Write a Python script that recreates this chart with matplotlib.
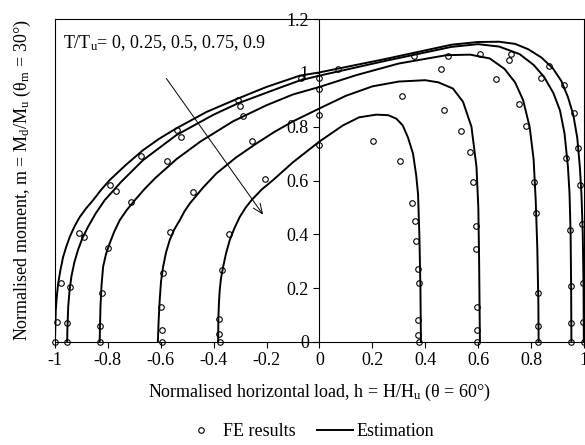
import numpy as np
import matplotlib
matplotlib.use('Agg')
import matplotlib.pyplot as plt

plt.rcParams['font.family'] = ['Liberation Serif', 'DejaVu Serif']
plt.rcParams['mathtext.default'] = 'regular'
plt.rcParams['axes.unicode_minus'] = False

T_LABELS = [0, 0.25, 0.5, 0.75, 0.9]

# estimation curves (h, m)
est_h_00 = [-1.0, -0.999, -0.997, -0.993, -0.988, -0.979, -0.969, -0.957, -0.944, -0.926, -0.906, -0.882,
            -0.856, -0.826, -0.793, -0.73, -0.667, -0.605, -0.541, -0.427, -0.308, -0.2, -0.074, 0.0, 0.25,
            0.5, 0.6, 0.68, 0.74, 0.79, 0.84, 0.883, 0.915, 0.94, 0.96, 0.975, 0.985, 0.991, 0.996, 0.999, 1.0]
est_m_00 = [0.0, 0.05, 0.119, 0.17, 0.218, 0.27, 0.317, 0.355, 0.391, 0.43, 0.465, 0.497,
            0.527, 0.565, 0.602, 0.66, 0.713, 0.756, 0.794, 0.855, 0.905, 0.948, 0.99, 1.002, 1.052,
            1.105, 1.115, 1.116, 1.108, 1.088, 1.057, 1.017, 0.97, 0.91, 0.845, 0.76, 0.65, 0.55, 0.4, 0.2, 0.0]

est_h_25 = [-0.954, -0.953, -0.95, -0.945, -0.938, -0.927, -0.913, -0.896, -0.875, -0.846, -0.812, -0.75,
            -0.667, -0.541, -0.4, -0.308, -0.15, -0.074, 0.0, 0.25, 0.5, 0.6, 0.68, 0.757, 0.81, 0.85, 0.885,
            0.91, 0.927, 0.94, 0.946, 0.95, 0.952, 0.953]
est_m_25 = [0.0, 0.05, 0.131, 0.19, 0.243, 0.295, 0.342, 0.387, 0.428, 0.478, 0.527, 0.595,
            0.676, 0.769, 0.845, 0.887, 0.945, 0.972, 0.99, 1.045, 1.097, 1.107, 1.098, 1.07, 1.03, 0.985, 0.925,
            0.86, 0.775, 0.65, 0.55, 0.4, 0.2, 0.0]

est_h_50 = [-0.831, -0.83, -0.828, -0.824, -0.818, -0.807, -0.793, -0.776, -0.755, -0.729, -0.698, -0.66,
            -0.62, -0.54, -0.45, -0.327, -0.2, -0.1, 0.0, 0.14, 0.3, 0.48, 0.57, 0.644, 0.7, 0.74, 0.77,
            0.795, 0.81, 0.818, 0.824, 0.828, 0.829]
est_m_50 = [0.0, 0.05, 0.131, 0.21, 0.28, 0.327, 0.367, 0.41, 0.453, 0.49, 0.527, 0.57,
            0.61, 0.68, 0.745, 0.82, 0.88, 0.92, 0.948, 0.992, 1.035, 1.066, 1.068, 1.054, 1.015, 0.965, 0.9,
            0.8, 0.68, 0.527, 0.35, 0.15, 0.0]

est_h_75 = [-0.611, -0.608, -0.604, -0.599, -0.591, -0.58, -0.566, -0.549, -0.528, -0.51, -0.49, -0.44,
            -0.389, -0.315, -0.238, -0.17, -0.1, 0.0, 0.1, 0.2, 0.3, 0.4, 0.45, 0.505, 0.543, 0.575, 0.594,
            0.601, 0.604, 0.606, 0.607]
est_m_75 = [0.0, 0.08, 0.156, 0.225, 0.28, 0.333, 0.379, 0.418, 0.453, 0.486, 0.515, 0.574,
            0.627, 0.686, 0.738, 0.781, 0.82, 0.868, 0.915, 0.95, 0.968, 0.973, 0.965, 0.942, 0.893, 0.8, 0.651,
            0.5, 0.3, 0.1, 0.0]

est_h_90 = [-0.383, -0.382, -0.38, -0.377, -0.372, -0.364, -0.353, -0.339, -0.321, -0.301, -0.28, -0.257,
            -0.218, -0.175, -0.1, 0.0, 0.089, 0.15, 0.215, 0.26, 0.291, 0.315, 0.335, 0.354, 0.366, 0.373,
            0.378, 0.382, 0.384]
est_m_90 = [0.0, 0.093, 0.145, 0.193, 0.238, 0.28, 0.33, 0.379, 0.424, 0.465, 0.498, 0.527,
            0.567, 0.602, 0.668, 0.745, 0.805, 0.835, 0.845, 0.843, 0.83, 0.805, 0.76, 0.7, 0.62, 0.55,
            0.4, 0.2, 0.0]

# FE results (h, m)
fe_h_00 = [-1.0, -0.992, -0.976, -0.910, -0.793, -0.673, -0.537, -0.307, -0.068, 0.07, 0.358, 0.606,
           0.726, 0.868, 0.924, 0.963, 0.977, 0.985, 0.993, 0.997, 0.997, 1.0]
fe_m_00 = [0.0, 0.073, 0.218, 0.404, 0.583, 0.692, 0.788, 0.900, 0.980, 1.013, 1.062, 1.072,
           1.070, 1.025, 0.955, 0.852, 0.721, 0.583, 0.438, 0.220, 0.075, 0.0]

fe_h_25 = [-0.954, -0.954, -0.942, -0.889, -0.770, -0.522, -0.301, 0.0, 0.485, 0.717, 0.837, 0.931,
           0.946, 0.953, 0.953, 0.953]
fe_m_25 = [0.0, 0.071, 0.206, 0.389, 0.562, 0.762, 0.878, 0.980, 1.063, 1.048, 0.98, 0.682,
           0.416, 0.208, 0.069, 0.0]

fe_h_50 = [-0.831, -0.831, -0.822, -0.799, -0.714, -0.576, -0.290, 0.0, 0.461, 0.667, 0.755, 0.783,
           0.810, 0.818, 0.827, 0.827, 0.827]
fe_m_50 = [0.0, 0.060, 0.181, 0.348, 0.521, 0.673, 0.841, 0.939, 1.014, 0.976, 0.884, 0.801,
           0.594, 0.479, 0.181, 0.059, 0.0]

fe_h_75 = [-0.596, -0.596, -0.598, -0.591, -0.564, -0.478, -0.256, 0.0, 0.314, 0.470, 0.535, 0.568,
           0.581, 0.591, 0.591, 0.596, 0.596, 0.596]
fe_m_75 = [0.0, 0.045, 0.131, 0.257, 0.41, 0.557, 0.747, 0.842, 0.915, 0.862, 0.785, 0.705,
           0.594, 0.432, 0.345, 0.130, 0.045, 0.0]

fe_h_90 = [-0.377, -0.380, -0.381, -0.367, -0.342, -0.207, 0.0, 0.203, 0.305, 0.352, 0.360, 0.367,
           0.371, 0.375, 0.373, 0.374, 0.375]
fe_m_90 = [0.0, 0.029, 0.084, 0.267, 0.400, 0.605, 0.734, 0.746, 0.672, 0.515, 0.449, 0.376,
           0.272, 0.220, 0.082, 0.027, 0.0]

x_ticks = [-1, -0.8, -0.6, -0.4, -0.2, 0, 0.2, 0.4, 0.6, 0.8, 1]
x_tick_labels = ['-1', '-0.8', '-0.6', '-0.4', '-0.2', '0', '0.2', '0.4', '0.6', '0.8', '1']
y_ticks = [0, 0.2, 0.4, 0.6, 0.8, 1.0, 1.2]
y_tick_labels = ['0', '0.2', '0.4', '0.6', '0.8', '1', '1.2']

est_curves = [(est_h_00, est_m_00), (est_h_25, est_m_25), (est_h_50, est_m_50),
              (est_h_75, est_m_75), (est_h_90, est_m_90)]
fe_sets = [(fe_h_00, fe_m_00), (fe_h_25, fe_m_25), (fe_h_50, fe_m_50),
           (fe_h_75, fe_m_75), (fe_h_90, fe_m_90)]

fig = plt.figure(figsize=(5.85, 4.45), dpi=100)
ax = fig.add_axes([0.094, 0.2315, 0.904, 0.7255])

for i, (h, m) in enumerate(est_curves):
    ax.plot(h, m, color='black', lw=1.4, solid_joinstyle='round',
            label='Estimation' if i == 0 else None)

for i, (h, m) in enumerate(fe_sets):
    ax.plot(h, m, linestyle='none', marker='o', ms=4, mfc='none', mec='black', mew=0.8,
            clip_on=False, label='FE results' if i == 0 else None)

ax.set_xlim(-1, 1)
ax.set_ylim(0, 1.2)
ax.set_xticks(x_ticks)
ax.set_xticklabels(x_tick_labels)
ax.set_yticks(y_ticks)
ax.set_yticklabels(y_tick_labels)
ax.tick_params(labelsize=13, length=4, width=0.8, direction='out')

ax.spines['left'].set_position(('data', 0))
for side in ['left', 'right', 'top', 'bottom']:
    ax.spines[side].set_linewidth(0.8)
ax.plot([0, 0], [0, 1], transform=ax.transAxes, color='black', lw=0.8, clip_on=False)

ax.set_xlabel('Normalised horizontal load, h = H/H$_u$ (θ = 60°)', fontsize=13)
ax.set_ylabel('Normalised moment, m = M$_d$/M$_u$ (θ$_m$ = 30°)', fontsize=13)
ax.xaxis.set_label_coords(0.5, -0.125)
ax.yaxis.set_label_coords(-0.042, 0.5)

ax.text(-0.97, 1.11, 'T/T$_u$= 0, 0.25, 0.5, 0.75, 0.9', fontsize=13, va='center', ha='left')
ax.annotate('', xy=(-0.207, 0.465), xytext=(-0.585, 0.988),
            arrowprops=dict(arrowstyle='->,head_length=0.7,head_width=0.3', lw=0.7, color='black'))

handles, labels = ax.get_legend_handles_labels()
order = [labels.index('FE results'), labels.index('Estimation')]
fig.legend([handles[k] for k in order], [labels[k] for k in order], loc='lower center',
           bbox_to_anchor=(0.528, -0.026), ncol=2, frameon=False, fontsize=13,
           handlelength=2.0, columnspacing=1.2, handletextpad=0.2)

fig.savefig('out.png', dpi=100)
